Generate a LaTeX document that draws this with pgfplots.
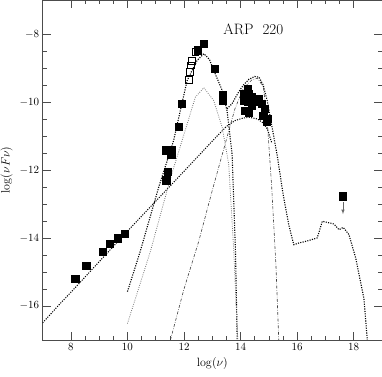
\documentclass[border=0pt]{standalone}
\usepackage{pgfplots}
\pgfplotsset{compat=1.18}
\begin{document}
\begin{tikzpicture}
\begin{axis}[
  scale only axis,
  width=338.5pt, height=339pt,
  xmin=7, xmax=19, ymin=-17, ymax=-7,
  xtick={8,10,...,18}, ytick={-16,-14,...,-8},
  minor x tick num=3, minor y tick num=3,
  tick align=inside,
  major tick length=8pt, minor tick length=4pt,
  tick style={black!70, line width=0.5pt},
  axis line style={black!70, line width=0.6pt},
  tick label style={font=\fontsize{11}{13}\selectfont},
  xlabel={$\log(\nu)$}, ylabel={$\log(\nu F\nu)$},
  label style={font=\fontsize{12}{14}\selectfont},
  clip=true,
  thickdot/.style={line width=1.1pt, dash pattern=on 1.1pt off 1.3pt},
]
\coordinate (sw) at (rel axis cs:0,0);
\coordinate (ne) at (rel axis cs:1,1);

% radio + stellar component
\addplot[thickdot, line width=1pt] coordinates {
(7,-16.5)(7.6,-15.95)(8,-15.6)(9,-14.7)(10,-13.8)(11,-12.92)(12,-12.04)(13,-11.15)
(13.5,-10.72)(13.8,-10.55)(14.1,-10.47)(14.3,-10.45)(14.6,-10.5)(14.8,-10.62)(14.95,-10.8)(15.1,-11.2)};

% dust fit (thick dotted)
\addplot[thickdot] coordinates {
(10.0,-15.58)(10.45,-14.40)(11.1,-12.52)(11.63,-11.14)(11.87,-10.25)(12.11,-9.37)
(12.46,-8.78)(12.7,-8.58)(12.9,-8.75)(13.05,-9.07)(13.35,-9.66)(13.52,-10.25)
(13.7,-11.54)(13.82,-14.4)(13.88,-17)};

% total
\addplot[thickdot] coordinates {
(13.52,-10.2)(13.7,-10.05)(13.9,-9.75)(14.1,-9.5)(14.3,-9.33)(14.5,-9.25)(14.65,-9.27)
(14.8,-9.5)(14.94,-9.96)(15.06,-10.5)(15.3,-11.6)(15.5,-12.7)(15.7,-13.6)(15.88,-14.2)
(16.06,-14.15)(16.4,-14.08)(16.71,-14.0)(16.89,-13.51)(17.1,-13.55)(17.3,-13.59)
(17.48,-13.76)(17.63,-13.69)(17.83,-13.90)(18.07,-14.59)(18.36,-15.78)(18.48,-17)};

% cold dust component (thin dotted)
\addplot[black!55, line width=0.8pt, dash pattern=on 0.8pt off 1.4pt] coordinates {
(10.0,-16.52)(10.81,-14.40)(11.5,-12.3)(12.11,-10.65)(12.4,-9.86)(12.7,-9.58)
(13.05,-9.96)(13.35,-10.75)(13.58,-11.83)(13.76,-14.4)(13.9,-17)};

% hot dust component (dash-dot)
\addplot[black!75, line width=0.6pt, dash pattern=on 3pt off 1.5pt on 0.6pt off 1.5pt] coordinates {
(11.52,-17)(12.0,-15.5)(12.52,-14.1)(13.0,-12.6)(13.52,-11.04)(13.8,-10.2)(14.1,-9.6)
(14.4,-9.35)(14.6,-9.3)(14.8,-9.55)(14.92,-10.3)(15.1,-12.5)(15.25,-14.8)(15.35,-17)};

% filled squares
\addplot[only marks, mark=square*, mark size=3.6pt, black] coordinates {
(8.15,-15.19)(8.54,-14.82)(9.12,-14.40)(9.38,-14.16)(9.66,-14.01)(9.90,-13.87)
(11.37,-12.30)(11.42,-12.05)(11.37,-11.42)(11.55,-11.42)(11.55,-11.54)(11.81,-10.72)
(11.93,-10.06)(12.48,-8.48)(12.70,-8.28)(13.08,-9.02)(13.38,-9.8)(13.38,-9.95)
(14.25,-9.6)(14.1,-9.75)(14.3,-9.75)(14.4,-9.85)(14.1,-9.95)(14.25,-10.0)(14.4,-10.1)
(14.15,-10.25)(14.3,-10.3)(14.45,-10.0)
(14.65,-9.9)(14.75,-10.05)(14.85,-10.2)(14.8,-10.4)(14.95,-10.5)(14.92,-10.58)
(17.60,-12.77)};

% open squares
\addplot[only marks, mark=square, mark size=3.4pt, black, mark options={line width=0.5pt}] coordinates {
(12.40,-8.53)(12.28,-8.78)(12.25,-8.92)(12.20,-9.12)(12.17,-9.34)};

\draw[-latex, black!60, line width=0.6pt] (axis cs:17.62,-12.95) -- (axis cs:17.62,-13.3);

\node[font=\fontsize{15}{15}\selectfont] at (axis cs:14.45,-7.86) {ARP\ \ 220};
\end{axis}
\pgfresetboundingbox
\path[use as bounding box] ([shift={(-42.5pt,-37pt)}]sw) rectangle (ne);
\end{tikzpicture}
\end{document}
